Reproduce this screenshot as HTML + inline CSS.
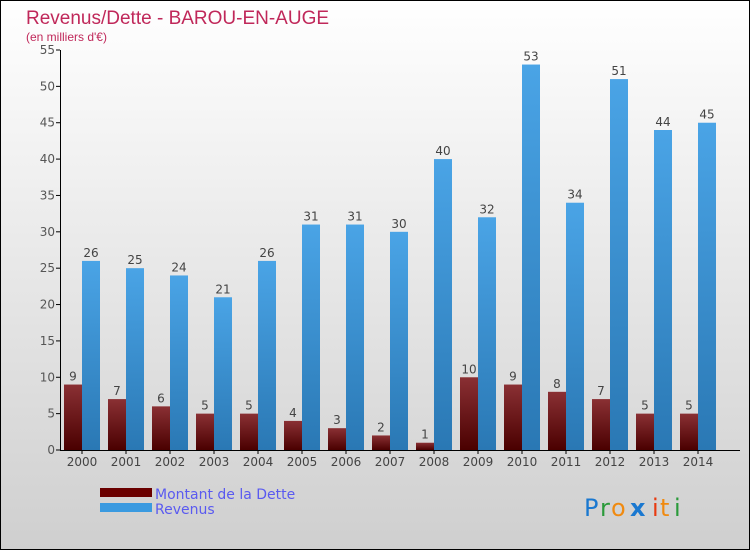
<!DOCTYPE html>
<html><head><meta charset="utf-8"><style>
html,body{margin:0;padding:0}
body{width:750px;height:550px;overflow:hidden;font-family:"DejaVu Sans","Liberation Sans",sans-serif}
</style></head><body>
<svg id="c" width="750" height="550" xmlns="http://www.w3.org/2000/svg">
<defs>
<linearGradient id="bg" x1="0" y1="0" x2="0" y2="1"><stop offset="0" stop-color="#ffffff"/><stop offset="1" stop-color="#cfcfcf"/></linearGradient>
<linearGradient id="gd" x1="0" y1="0" x2="0" y2="1"><stop offset="0" stop-color="#8a3034"/><stop offset="1" stop-color="#4a0000"/></linearGradient>
<linearGradient id="gr" x1="0" y1="0" x2="0" y2="1"><stop offset="0" stop-color="#4aa4e6"/><stop offset="1" stop-color="#2a78b4"/></linearGradient>
</defs>
<rect x="0.5" y="0.5" width="749" height="549" fill="url(#bg)" stroke="#000"/>
<text x="26" y="24" font-size="19" fill="#c0285a" font-family="'Liberation Sans',sans-serif">Revenus/Dette - BAROU-EN-AUGE</text>
<text x="26" y="41" font-size="12" fill="#c0285a" font-family="'Liberation Sans',sans-serif">(en milliers d'€)</text>
<g id="plot"></g>
<rect x="100" y="488" width="52" height="9" fill="#6a0000"/>
<rect x="100" y="503" width="52" height="9" fill="#3a9ae0"/>
<text x="155" y="499" font-size="14" fill="#5a5af0">Montant de la Dette</text>
<text x="155" y="514" font-size="14" fill="#5a5af0">Revenus</text>
<g font-size="24" font-family="'DejaVu Sans',sans-serif">
<text x="584" y="516" fill="#1a78d0">P</text><text x="600" y="516" fill="#2a9a3a">r</text><text x="611" y="516" fill="#f08a10">o</text><text x="630" y="516" fill="#1a78d0" font-weight="bold">x</text><text x="652" y="516" fill="#e83a10">i</text><text x="660" y="516" fill="#f08a10">t</text><text x="674" y="516" fill="#2a9a3a">i</text>
</g>
</svg>
<script>
const years=["2000","2001","2002","2003","2004","2005","2006","2007","2008","2009","2010","2011","2012","2013","2014"];
const dette=[9,7,6,5,5,4,3,2,1,10,9,8,7,5,5];
const revenus=[26,25,24,21,26,31,31,30,40,32,53,34,51,44,45];
const yTicks=[0,5,10,15,20,25,30,35,40,45,50,55];
const NS="http://www.w3.org/2000/svg";
const g=document.getElementById('plot');
const y0=450,yMax=55,pxH=400;
function yS(v){return y0-v/yMax*pxH;}
function xS(i){return 82+i*44;}
function mk(t,a,txt){const e=document.createElementNS(NS,t);for(const k in a)e.setAttribute(k,a[k]);if(txt!==undefined)e.textContent=txt;g.appendChild(e);return e;}
yTicks.forEach(v=>{
  const l=mk('line',{x1:56,x2:60,y1:yS(v),y2:yS(v),stroke:'#000'});
  
  
  const t=mk('text',{x:55,y:yS(v)+4,'font-size':12,fill:'#555','text-anchor':'end'},String(v));
  
  
});
years.forEach((yr,i)=>{
  const cx=xS(i);
  const b1=mk('rect',{x:cx-18,y:yS(dette[i]),width:18,height:y0-yS(dette[i]),fill:'url(#gd)'});
  
  
  const b2=mk('rect',{x:cx,y:yS(revenus[i]),width:18,height:y0-yS(revenus[i]),fill:'url(#gr)'});
  
  
  const v1=mk('text',{x:cx-9,y:yS(dette[i])-4,'font-size':12,fill:'#444','text-anchor':'middle'},String(dette[i]));
  
  
  const v2=mk('text',{x:cx+9,y:yS(revenus[i])-4,'font-size':12,fill:'#444','text-anchor':'middle'},String(revenus[i]));
  
  
  const tk=mk('line',{x1:cx,x2:cx,y1:450,y2:454,stroke:'#000'});
  
  
  const xl=mk('text',{x:cx,y:466,'font-size':12,fill:'#444','text-anchor':'middle'},yr);
  
  
});
const ya=mk('line',{x1:60.5,x2:60.5,y1:50,y2:450,stroke:'#000'});


const xa=mk('line',{x1:60,x2:740,y1:450.5,y2:450.5,stroke:'#000'});


</script>
</body></html>
